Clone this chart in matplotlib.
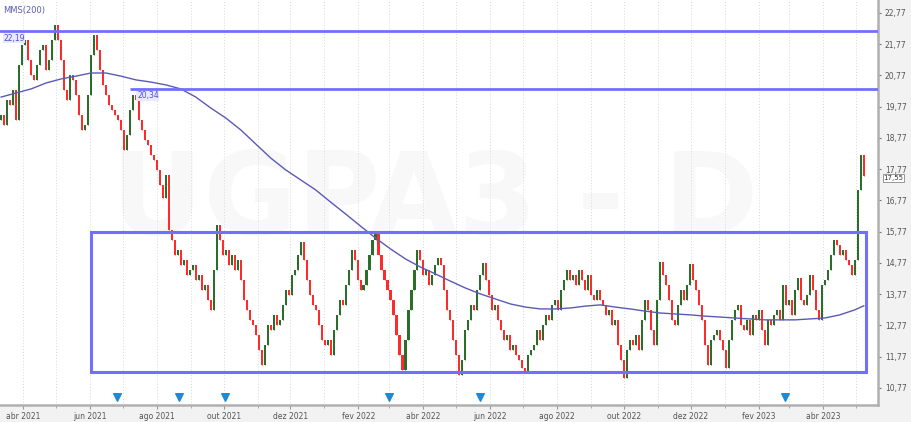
import matplotlib
matplotlib.use('Agg')
import matplotlib.pyplot as plt
import matplotlib.dates as mdates
import matplotlib.patches as mpatches
import pandas as pd

# chart texts
watermark = 'UGPA3 - D'
ma_label = 'MMS(200)'
month_names = ['jan', 'fev', 'mar', 'abr', 'mai', 'jun', 'jul', 'ago', 'set', 'out', 'nov', 'dez']

# closes (roughly every 2 trading days)
start_date = '2021-03-12'
end_date = '2023-05-08'
first_open = 19.35
closes = [
    19.51, 19.19, 19.99, 19.83, 20.31, 19.35, 21.11, 21.75, 21.91, 21.27,
    20.79, 20.63, 21.11, 21.59, 21.75, 20.95, 21.27, 21.91, 22.39, 21.91,
    21.27, 20.31, 19.99, 20.79, 20.63, 20.15, 19.51, 19.03, 19.19, 20.15,
    21.43, 22.07, 21.59, 20.95, 20.47, 20.15, 19.83, 19.67, 19.51, 19.35,
    19.03, 18.39, 18.87, 19.67, 20.15, 19.99, 19.35, 19.03, 18.71, 18.55,
    18.23, 18.07, 17.75, 17.27, 16.85, 17.59, 15.83, 15.51, 15.03, 15.19,
    14.71, 14.87, 14.39, 14.55, 14.71, 14.23, 14.39, 13.91, 14.07, 13.59,
    13.27, 14.55, 15.99, 15.51, 15.03, 15.19, 14.71, 15.03, 14.55, 14.87,
    14.23, 13.59, 13.27, 12.95, 12.79, 12.47, 11.99, 11.51, 12.15, 12.79,
    12.63, 13.11, 12.79, 12.95, 13.43, 13.91, 13.75, 14.39, 14.55, 15.03,
    15.44, 14.87, 14.23, 13.75, 13.43, 13.27, 12.79, 12.31, 12.15, 12.31,
    11.83, 12.63, 13.11, 13.59, 13.43, 14.07, 14.55, 15.19, 14.87, 14.23,
    13.91, 14.07, 14.55, 15.03, 15.51, 15.73, 15.03, 14.55, 14.23, 13.91,
    13.59, 13.11, 12.47, 11.83, 11.35, 12.31, 13.27, 13.91, 14.55, 15.19,
    14.87, 14.39, 14.55, 14.07, 14.39, 14.71, 14.93, 14.71, 13.91, 13.27,
    12.95, 12.31, 11.83, 11.19, 11.67, 12.63, 12.95, 13.43, 13.27, 13.91,
    14.39, 14.77, 14.23, 13.75, 13.27, 13.43, 12.95, 12.63, 12.31, 12.47,
    11.99, 12.15, 11.83, 11.67, 11.41, 11.28, 11.83, 11.99, 12.15, 12.63,
    12.31, 12.79, 13.11, 12.95, 13.43, 13.59, 13.27, 13.91, 14.23, 14.55,
    14.23, 14.39, 14.07, 14.55, 14.23, 13.91, 14.39, 13.75, 13.59, 13.91,
    13.59, 13.43, 13.11, 13.27, 12.79, 12.95, 12.15, 11.67, 11.09, 11.99,
    12.31, 12.15, 12.47, 11.99, 12.95, 13.59, 13.27, 12.63, 12.15, 13.59,
    14.80, 14.39, 14.07, 13.59, 12.95, 12.79, 13.43, 13.91, 13.59, 14.07,
    14.74, 14.23, 13.91, 13.43, 12.95, 12.15, 11.51, 12.31, 12.47, 12.63,
    12.31, 11.99, 11.41, 12.31, 12.95, 13.27, 13.43, 12.79, 12.63, 12.95,
    12.47, 13.11, 12.95, 13.27, 12.63, 12.15, 12.95, 12.79, 13.11, 13.27,
    12.95, 14.07, 13.43, 13.59, 13.11, 13.91, 14.29, 13.59, 13.43, 13.75,
    14.39, 13.91, 13.27, 12.95, 14.07, 14.23, 14.55, 15.03, 15.51, 15.35,
    15.03, 15.19, 14.87, 14.71, 14.39, 14.87, 17.11, 18.23, 17.55,
]

# MMS(200), sampled every 5th candle, plus the last one
ma_values = [
    20.08, 20.21, 20.34, 20.53, 20.66, 20.75, 20.85, 20.85, 20.75, 20.63,
    20.56, 20.47, 20.34, 20.08, 19.73, 19.41, 19.03, 18.58, 18.13, 17.75,
    17.43, 17.11, 16.72, 16.34, 15.95, 15.57, 15.22, 14.90, 14.64, 14.42,
    14.19, 13.97, 13.78, 13.62, 13.46, 13.36, 13.30, 13.30, 13.33, 13.39,
    13.43, 13.36, 13.30, 13.23, 13.17, 13.14, 13.11, 13.07, 13.04, 13.01,
    12.98, 12.95, 12.95, 12.95, 12.98, 13.01, 13.11, 13.27, 13.40,
]

# drawn objects
line_top = 22.19
line_mid = 20.34
line_mid_start = '2021-07-08'
box_start = '2021-06-02'
box_end = '2023-05-10'
box_low = 11.28
box_high = 15.76
event_dates = ['2021-06-26', '2021-08-21', '2021-10-02', '2022-03-01', '2022-05-23', '2023-02-25']
y_ticks = [10.77, 11.77, 12.77, 13.77, 14.77, 15.77, 16.77, 17.77, 18.77, 19.77, 20.77, 21.77, 22.77]
last_price = 17.55

up_color = '#2a6e2a'
down_color = '#ff2b2b'
obj_color = '#7070ff'

fig = plt.figure(figsize=(9.11, 4.22), dpi=100, facecolor='#f2f2f2')
ax = fig.add_axes([0.0, 0.0403, 0.9638, 0.9597])
ax.set_facecolor('white')

dates = pd.date_range(start_date, end_date, periods=len(closes))
opens = [first_open] + closes[:-1]

# watermark
ax.text(0.495, 0.50, watermark, transform=ax.transAxes, ha='center', va='center',
        fontsize=82, fontweight='bold', color='#f8f8f8', zorder=0)

# candles
for d, o, c in zip(dates, opens, closes):
    col = up_color if c >= o else down_color
    ax.bar(d, c - o, bottom=o, width=1.9, color=col, linewidth=0, zorder=3)
    ax.vlines(d, min(o, c), max(o, c), color=col, linewidth=0.6, zorder=3)

# moving average
ma_idx = list(range(0, len(closes), 5))[:len(ma_values) - 1] + [len(closes) - 1]
ax.plot(dates[ma_idx], ma_values, color='#5a5ab4', linewidth=1.0, zorder=4)

# horizontal lines and labels
ax.axhline(line_top, color=obj_color, linewidth=2.0, zorder=5)
ax.hlines(line_mid, pd.Timestamp(line_mid_start), pd.Timestamp('2023-06-30'),
          color=obj_color, linewidth=2.0, zorder=5)
ax.text(pd.Timestamp('2021-03-14'), line_top - 0.08, f'{line_top:.2f}'.replace('.', ','),
        fontsize=5.5, color='#5050d0', va='top', ha='left', zorder=6,
        bbox=dict(facecolor='#e8e8ff', edgecolor='none', pad=0.5))
ax.text(pd.Timestamp('2021-07-14'), line_mid - 0.08, f'{line_mid:.2f}'.replace('.', ','),
        fontsize=5.5, color='#5050d0', va='top', ha='left', zorder=6,
        bbox=dict(facecolor='#e8e8ff', edgecolor='none', pad=0.5))

# range box
x0 = mdates.date2num(pd.Timestamp(box_start))
x1 = mdates.date2num(pd.Timestamp(box_end))
ax.add_patch(mpatches.Rectangle((x0, box_low), x1 - x0, box_high - box_low,
                                fill=False, edgecolor=obj_color, linewidth=2.2, zorder=5))

# event markers
ev = pd.to_datetime(event_dates)
ax.scatter(ev, [10.48] * len(ev), marker='v', s=30, color='#1e8ad6', zorder=6)

ax.text(0.004, 0.985, ma_label, transform=ax.transAxes, fontsize=6, color='#5a5ab4',
        va='top', ha='left')

# axes
ax.set_xlim(pd.Timestamp('2021-03-11'), pd.Timestamp('2023-05-21'))
ax.set_ylim(10.226, 23.186)

ax.xaxis.set_minor_locator(mdates.MonthLocator())
ax.xaxis.set_major_locator(mdates.MonthLocator(bymonth=[2, 4, 6, 8, 10, 12]))
ax.xaxis.set_major_formatter(plt.FuncFormatter(
    lambda v, pos: f"{month_names[mdates.num2date(v).month - 1]} {mdates.num2date(v).year}"))
ax.grid(axis='x', which='both', color='#d8d8d8', linestyle=(0, (1, 2)), linewidth=0.7, zorder=1)

ax.yaxis.tick_right()
ax.set_yticks(y_ticks)
ax.set_yticklabels([f'{v:.2f}'.replace('.', ',') for v in y_ticks])
ax.tick_params(axis='y', labelsize=5.5, labelcolor='#555555', length=2, color='#777777', pad=3)
ax.tick_params(axis='x', which='major', labelsize=5.5, labelcolor='#555555', length=3, color='#999999', pad=2)
ax.tick_params(axis='x', which='minor', length=2, color='#999999')

for side in ['top', 'left']:
    ax.spines[side].set_visible(False)
for side in ['right', 'bottom']:
    ax.spines[side].set_color('#b0b0b0')
    ax.spines[side].set_linewidth(1.8)

# last price tag, nudged a little below the 17,77 tick label
ax.annotate(f'{last_price:.2f}'.replace('.', ','), xy=(1.0, last_price),
            xycoords=('axes fraction', 'data'), xytext=(4, -1.5), textcoords='offset points',
            fontsize=5, color='#333333', va='center', ha='left', annotation_clip=False,
            bbox=dict(facecolor='white', edgecolor='#888888', linewidth=0.6, pad=0.6))

fig.savefig('out.png', dpi=100, facecolor=fig.get_facecolor())
